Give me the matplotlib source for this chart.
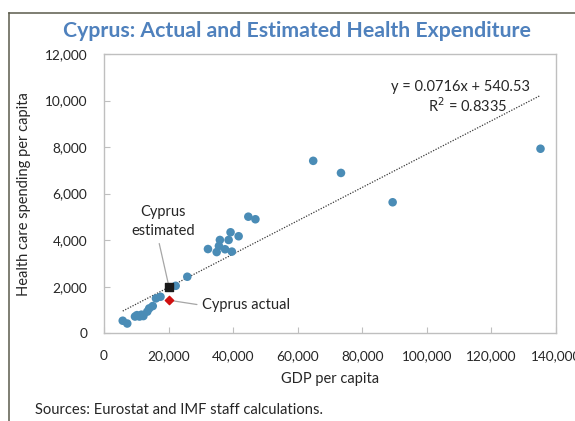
import matplotlib
matplotlib.use("Agg")
import matplotlib.pyplot as plt
from matplotlib.lines import Line2D
from matplotlib.ticker import FuncFormatter, MultipleLocator
import numpy as np

plt.rcParams['font.family'] = ['Lato', 'DejaVu Sans']

# GDP per capita and health care spending per capita (both in units of currency)
gdp = [5800, 7200, 9600, 10200, 11000, 11600, 12200, 13400, 14000, 15100,
       16100, 17500, 22200, 25800, 32200, 34900, 35600, 35900, 37500, 38600,
       39200, 39600, 41700, 44700, 46900, 64800, 73400, 89400, 135200]
health = [540, 420, 720, 780, 720, 800, 740, 930, 1070, 1170,
          1500, 1570, 2040, 2430, 3620, 3490, 3750, 4010, 3610, 4010,
          4340, 3510, 4170, 5010, 4900, 7410, 6890, 5630, 7930]

cyprus_gdp = 20150
cyprus_actual = 1420
cyprus_estimated = 1985

slope = 0.0716
intercept = 540.53
r_squared = 0.8335

blue = '#4a8cb6'
title_blue = '#4f81bd'
grey_text = '#262626'
label_size = 10.5

fig = plt.figure(figsize=(5.75, 4.21), dpi=100)
ax = fig.add_axes([104 / 575, 1 - 333.3 / 421, (556 - 104) / 575, (333.3 - 54) / 421])

# linear trend across the range of observations
xs = np.array([min(gdp), max(gdp)])
ax.plot(xs, slope * xs + intercept, linestyle=(0, (1, 1.2)), color='#3a3a3a', lw=0.9, zorder=2)

ax.scatter(gdp, health, s=38, color=blue, edgecolors='none', zorder=3)
ax.scatter([cyprus_gdp], [cyprus_estimated], marker='s', s=26, color='#1a1a1a', zorder=4)
ax.scatter([cyprus_gdp], [cyprus_actual], marker='D', s=18, color='#d01010', zorder=4)

ax.set_xlim(0, 140000)
ax.set_ylim(0, 12000)
ax.xaxis.set_major_locator(MultipleLocator(20000))
ax.yaxis.set_major_locator(MultipleLocator(2000))
fmt = FuncFormatter(lambda v, p: f"{int(v):,}")
ax.xaxis.set_major_formatter(fmt)
ax.yaxis.set_major_formatter(fmt)

for s in ax.spines.values():
    s.set_color('#bfbfbf')
    s.set_linewidth(1.0)
ax.tick_params(direction='in', length=4, width=0.8, color='#bfbfbf',
               labelsize=9.8, labelcolor=grey_text)
ax.tick_params(axis='y', pad=12)
ax.tick_params(axis='x', pad=12)

ax.set_xlabel('GDP per capita', fontsize=label_size, color=grey_text, labelpad=7)
ax.set_ylabel('Health care spending per capita', fontsize=label_size, color=grey_text, labelpad=10)

ax.annotate('Cyprus\nestimated', xy=(cyprus_gdp, cyprus_estimated),
            xytext=(18300, 4800), ha='center', va='center', fontsize=label_size,
            color=grey_text, linespacing=1.45,
            arrowprops=dict(arrowstyle='-', color='#a6a6a6', lw=0.9,
                            relpos=(0.42, 0.0), shrinkA=2, shrinkB=3))
ax.annotate('Cyprus actual', xy=(cyprus_gdp, cyprus_actual),
            xytext=(30500, 1200), ha='left', va='center', fontsize=label_size,
            color=grey_text,
            arrowprops=dict(arrowstyle='-', color='#a6a6a6', lw=0.9,
                            relpos=(0.0, 0.5), shrinkA=2, shrinkB=3))

ax.text(110500, 10600, f"y = {slope}x + {intercept}", ha='center', va='center',
        fontsize=label_size, color=grey_text)
ax.text(112500, 9800, f"R$^2$ = {r_squared}", ha='center', va='center',
        fontsize=label_size, color=grey_text)

fig.text(297 / 575, 1 - 31 / 421, 'Cyprus: Actual and Estimated Health Expenditure',
         ha='center', va='center', fontsize=15.3, fontweight='bold', color=title_blue)
fig.text(35 / 575, 1 - 410 / 421, 'Sources: Eurostat and IMF staff calculations.',
         ha='left', va='center', fontsize=10.6, color=grey_text)

# outer frame of the exhibit
frame_color = '#5b5b4b'
fig.add_artist(Line2D([9 / 575, 9 / 575], [0, 1 - 12.5 / 421], color=frame_color, lw=1.1))
fig.add_artist(Line2D([9 / 575, 1], [1 - 12.5 / 421, 1 - 12.5 / 421], color=frame_color, lw=1.1))

fig.savefig('out.png', dpi=100)
